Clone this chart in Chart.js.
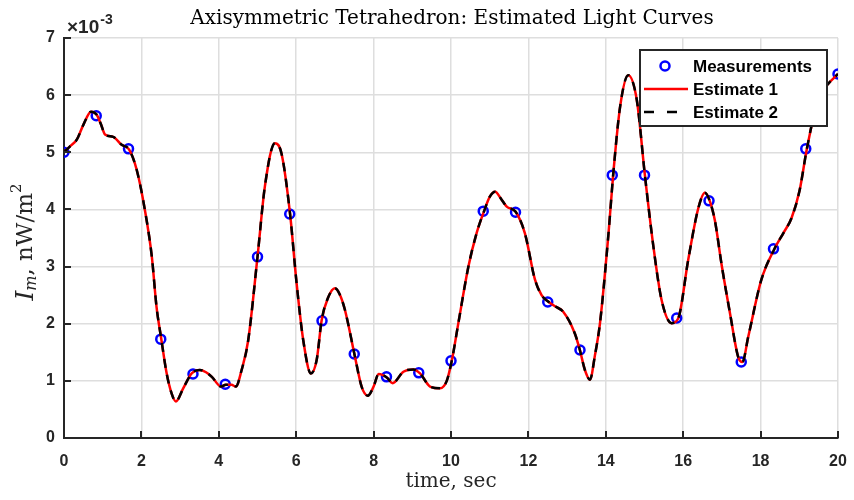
<!DOCTYPE html>
<html>
<head>
<meta charset="utf-8">
<script src="https://cdn.jsdelivr.net/npm/chart.js@4.4.0/dist/chart.umd.min.js"></script>
<style>body{margin:0;background:#fff}</style>
</head>
<body>
<canvas id="lightCurves" width="854" height="500"></canvas>
<script>
// values in units of 1e-3 nW/m^2
const measTime = [0, 0.833, 1.667, 2.5, 3.333, 4.167, 5, 5.833, 6.667, 7.5, 8.333, 9.167, 10,
    10.833, 11.667, 12.5, 13.333, 14.167, 15, 15.833, 16.667, 17.5, 18.333, 19.167, 20];
const measValues = [5.00, 5.64, 5.06, 1.73, 1.12, 0.94, 3.17, 3.92, 2.05, 1.47, 1.07, 1.14, 1.35,
    3.97, 3.95, 2.38, 1.54, 4.60, 4.60, 2.10, 4.15, 1.33, 3.31, 5.06, 6.37];

const estTime = [0, 0.15, 0.33, 0.5, 0.7, 0.84, 0.95, 1.06, 1.27, 1.49, 1.68, 1.88, 2.09, 2.27, 2.39,
    2.51, 2.65, 2.78, 2.89, 3.08, 3.3, 3.51, 3.67, 3.82, 4.06, 4.18, 4.33, 4.44, 4.59, 4.76, 5.0,
    5.19, 5.45, 5.62, 5.84, 6.01, 6.18, 6.38, 6.53, 6.66, 6.82, 7.0, 7.12, 7.26, 7.51, 7.69, 7.85,
    8.0, 8.13, 8.34, 8.49, 8.77, 9.03, 9.2, 9.46, 9.72, 9.89, 10.02, 10.19, 10.45, 10.66, 10.86,
    11.0, 11.14, 11.3, 11.44, 11.67, 11.91, 12.17, 12.34, 12.51, 12.7, 12.9, 13.2, 13.33, 13.46,
    13.59, 13.72, 13.85, 14.07, 14.19, 14.37, 14.58, 14.8, 15.01, 15.23, 15.44, 15.7, 15.87, 16.13,
    16.39, 16.56, 16.69, 16.82, 17.0, 17.21, 17.42, 17.53, 17.68, 18.02, 18.35, 18.6, 18.8, 19.01,
    19.19, 19.49, 19.75, 20];
const est1Values = [5.00, 5.10, 5.22, 5.48, 5.71, 5.66, 5.50, 5.31, 5.27, 5.13, 5.05, 4.69, 3.99, 3.17, 2.30,
    1.75, 1.14, 0.78, 0.64, 0.87, 1.13, 1.19, 1.15, 1.07, 0.90, 0.93, 0.93, 0.90, 1.19, 1.71, 3.17,
    4.40, 5.16, 4.98, 3.93, 2.71, 1.72, 1.13, 1.37, 2.07, 2.45, 2.62, 2.52, 2.24, 1.45, 0.90, 0.74,
    0.90, 1.12, 1.06, 0.96, 1.16, 1.20, 1.13, 0.90, 0.87, 1.00, 1.35, 2.01, 3.00, 3.58, 3.98,
    4.22, 4.31, 4.18, 4.05, 3.96, 3.58, 2.77, 2.50, 2.39, 2.30, 2.21, 1.83, 1.54, 1.19,
    1.02, 1.45, 2.01, 3.58, 4.60, 5.80, 6.35, 5.92, 4.60, 3.35, 2.42, 2.01, 2.09, 3.12,
    4.02, 4.29, 4.14, 3.80, 3.00, 2.18, 1.42, 1.33, 1.77, 2.77, 3.30, 3.60, 3.85, 4.34,
    5.04, 5.94, 6.20, 6.37];
// the second estimate lies on top of the first one
const est2Values = est1Values.slice();

const xTicks = { min: 0, max: 20, step: 2 };
const yTicks = { min: 0, max: 7, step: 1 };

const toPoints = (xs, ys) => xs.map((x, i) => ({ x: x, y: ys[i] }));

const axisColor = '#262626';
const gridColor = '#dedede';

const matlabDecor = {
    id: 'matlabDecor',
    afterDraw(chart) {
        const ctx = chart.ctx;
        const area = chart.chartArea;
        const xs = chart.scales.x;
        const ys = chart.scales.y;
        ctx.save();

        // inward ticks
        ctx.strokeStyle = axisColor;
        ctx.lineWidth = 2;
        ctx.beginPath();
        for (let v = xTicks.min; v <= xTicks.max; v += xTicks.step) {
            const px = Math.round(xs.getPixelForValue(v));
            ctx.moveTo(px, area.bottom);
            ctx.lineTo(px, area.bottom - 7);
        }
        for (let v = yTicks.min; v <= yTicks.max; v += yTicks.step) {
            const py = Math.round(ys.getPixelForValue(v));
            ctx.moveTo(area.left, py);
            ctx.lineTo(area.left + 7, py);
        }
        ctx.stroke();

        // exponent
        ctx.fillStyle = axisColor;
        ctx.textBaseline = 'middle';
        ctx.textAlign = 'left';
        ctx.font = 'bold 19px "Liberation Sans"';
        ctx.fillText('\u00d710', 67, 28);
        const w10 = ctx.measureText('\u00d710').width;
        ctx.font = 'bold 14px "Liberation Sans"';
        ctx.fillText('-3', 67 + w10 + 1, 20);

        // title
        ctx.fillStyle = '#000';
        ctx.textAlign = 'center';
        ctx.font = '20px "DejaVu Serif"';
        ctx.fillText('Axisymmetric Tetrahedron: Estimated Light Curves', 452, 19);

        // x label
        ctx.fillStyle = axisColor;
        ctx.font = '20px "DejaVu Serif"';
        ctx.fillText('time, sec', 451, 482);

        // y label
        const parts = [
            { t: 'I', f: 'italic 25px "DejaVu Serif"', dy: 0 },
            { t: 'm', f: 'italic 16px "DejaVu Serif"', dy: 6 },
            { t: ', nW/m', f: '23px "DejaVu Serif"', dy: 0 },
            { t: '2', f: '15px "DejaVu Serif"', dy: -9 }
        ];
        let total = 0;
        parts.forEach(p => { ctx.font = p.f; p.w = ctx.measureText(p.t).width; total += p.w; });
        ctx.translate(26, 242);
        ctx.rotate(-Math.PI / 2);
        ctx.textAlign = 'left';
        let cx = -total / 2;
        parts.forEach(p => {
            ctx.font = p.f;
            ctx.fillText(p.t, cx, p.dy);
            cx += p.w;
        });
        ctx.setTransform(1, 0, 0, 1, 0, 0);

        // legend
        const box = { l: 640, t: 50, r: 827, b: 126 };
        ctx.fillStyle = '#fff';
        ctx.fillRect(box.l, box.t, box.r - box.l, box.b - box.t);
        ctx.strokeStyle = axisColor;
        ctx.lineWidth = 2;
        ctx.strokeRect(box.l, box.t, box.r - box.l, box.b - box.t);

        const rows = [66, 89, 112];
        ctx.strokeStyle = '#0000ff';
        ctx.lineWidth = 2.5;
        ctx.beginPath();
        ctx.arc(665, rows[0], 4.5, 0, Math.PI * 2);
        ctx.stroke();

        ctx.strokeStyle = '#ff0000';
        ctx.lineWidth = 2.5;
        ctx.beginPath();
        ctx.moveTo(644, rows[1]);
        ctx.lineTo(688, rows[1]);
        ctx.stroke();

        ctx.strokeStyle = '#000';
        ctx.setLineDash([10, 13]);
        ctx.beginPath();
        ctx.moveTo(644, rows[2]);
        ctx.lineTo(688, rows[2]);
        ctx.stroke();
        ctx.setLineDash([]);

        ctx.fillStyle = '#000';
        ctx.font = 'bold 17px "Liberation Sans"';
        ctx.textAlign = 'left';
        ['Measurements', 'Estimate 1', 'Estimate 2'].forEach((s, i) => ctx.fillText(s, 693, rows[i] + 1));

        ctx.restore();
    }
};

new Chart(document.getElementById('lightCurves').getContext('2d'), {
    type: 'scatter',
    data: {
        datasets: [
            {
                label: 'Estimate 2',
                data: toPoints(estTime, est2Values),
                showLine: true,
                borderColor: '#000000',
                borderWidth: 2.5,
                borderDash: [9, 7],
                pointRadius: 0,
                cubicInterpolationMode: 'monotone',
                order: 0
            },
            {
                label: 'Estimate 1',
                data: toPoints(estTime, est1Values),
                showLine: true,
                borderColor: '#ff0000',
                borderWidth: 2.5,
                pointRadius: 0,
                cubicInterpolationMode: 'monotone',
                order: 1
            },
            {
                label: 'Measurements',
                data: toPoints(measTime, measValues),
                showLine: false,
                pointStyle: 'circle',
                pointRadius: 4.5,
                borderWidth: 2.5,
                borderColor: '#0000ff',
                backgroundColor: 'rgba(0,0,0,0)',
                order: 2
            }
        ]
    },
    options: {
        responsive: false,
        animation: false,
        devicePixelRatio: 1,
        layout: { padding: { top: 38, right: 16, left: 0, bottom: 0 } },
        plugins: {
            legend: { display: false },
            tooltip: { enabled: false },
            title: { display: false }
        },
        scales: {
            x: {
                type: 'linear',
                min: xTicks.min,
                max: xTicks.max,
                afterFit: s => { s.height = 62; s.paddingLeft = 0; s.paddingRight = 0; },
                ticks: {
                    stepSize: xTicks.step,
                    color: axisColor,
                    padding: 14,
                    font: { family: 'Liberation Sans', size: 16, weight: 'bold' }
                },
                grid: { color: gridColor, lineWidth: 1.5, drawTicks: false },
                border: { color: axisColor, width: 2 }
            },
            y: {
                min: yTicks.min,
                max: yTicks.max,
                afterFit: s => { s.width = 64; s.paddingTop = 0; s.paddingBottom = 0; },
                ticks: {
                    stepSize: yTicks.step,
                    color: axisColor,
                    padding: 9,
                    font: { family: 'Liberation Sans', size: 16, weight: 'bold' }
                },
                grid: { color: gridColor, lineWidth: 1.5, drawTicks: false },
                border: { color: axisColor, width: 2 }
            }
        }
    },
    plugins: [matlabDecor]
});
</script>
</body>
</html>
